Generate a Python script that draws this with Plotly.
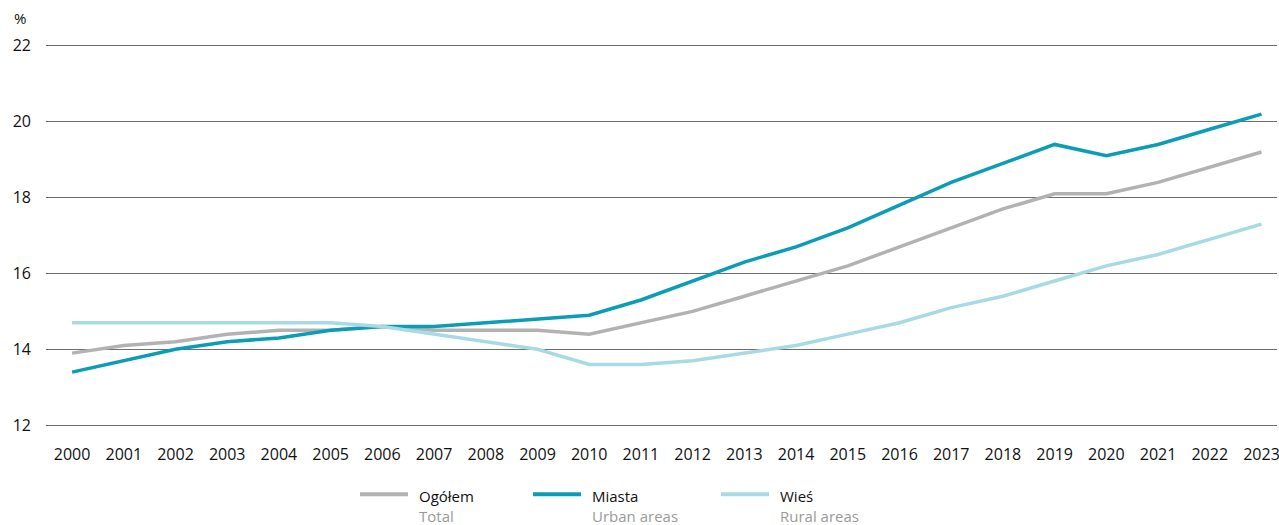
import plotly.graph_objects as go

years = list(range(2000, 2024))

ogolem = [13.9, 14.1, 14.2, 14.4, 14.5, 14.5, 14.6, 14.5, 14.5, 14.5, 14.4, 14.7,
          15.0, 15.4, 15.8, 16.2, 16.7, 17.2, 17.7, 18.1, 18.1, 18.4, 18.8, 19.2]
miasta = [13.4, 13.7, 14.0, 14.2, 14.3, 14.5, 14.6, 14.6, 14.7, 14.8, 14.9, 15.3,
          15.8, 16.3, 16.7, 17.2, 17.8, 18.4, 18.9, 19.4, 19.1, 19.4, 19.8, 20.2]
wies = [14.7, 14.7, 14.7, 14.7, 14.7, 14.7, 14.6, 14.4, 14.2, 14.0, 13.6, 13.6,
        13.7, 13.9, 14.1, 14.4, 14.7, 15.1, 15.4, 15.8, 16.2, 16.5, 16.9, 17.3]

labels_pl = ["Ogółem", "Miasta", "Wieś"]
labels_en = ["Total", "Urban areas", "Rural areas"]
colors = ["#b2b2b2", "#0a9db5", "#a7dae4"]

font = "Open Sans"
W, H = 1279, 525
L, R, T, B = 46, 2, 42.2, 96.2


# pixel -> paper helpers for the hand-made legend
def px_x(p):
    return (p - L) / (W - L - R)


def px_y(p):
    return (H - B - p) / (H - T - B)


fig = go.Figure()
for pl, vals, col in zip(labels_pl, [ogolem, miasta, wies], colors):
    fig.add_trace(go.Scatter(x=years, y=vals, mode="lines", name=pl,
                             line=dict(color=col, width=3.5)))

# legend: line sample + polish label + english label under it
leg_x = [360, 533, 721]
for i in range(3):
    x0 = leg_x[i]
    fig.add_shape(type="line", xref="paper", yref="paper",
                  x0=px_x(x0), x1=px_x(x0 + 48), y0=px_y(494), y1=px_y(494),
                  line=dict(color=colors[i], width=4))
    fig.add_annotation(text=labels_pl[i], xref="paper", yref="paper",
                       x=px_x(x0 + 57), y=px_y(496), xanchor="left", yanchor="middle",
                       showarrow=False, font=dict(size=15, color="#111", family=font))
    fig.add_annotation(text=labels_en[i], xref="paper", yref="paper",
                       x=px_x(x0 + 57), y=px_y(516), xanchor="left", yanchor="middle",
                       showarrow=False, font=dict(size=15, color="#9a9a9a", family=font))

fig.add_annotation(text="%", xref="paper", yref="paper", x=px_x(12), y=px_y(18),
                   xanchor="left", yanchor="middle", showarrow=False,
                   font=dict(size=15, color="#111", family=font))

fig.update_layout(
    width=W, height=H,
    margin=dict(l=L, r=R, t=T, b=B),
    plot_bgcolor="white", paper_bgcolor="white",
    font=dict(family=font, size=16, color="#111"),
    showlegend=False,
)
fig.update_xaxes(range=[1999.496, 2023.3], tickmode="array", tickvals=years,
                 ticktext=[str(y) for y in years], showgrid=False, zeroline=False,
                 showline=False, automargin=False, ticklabelstandoff=14,
                 ticklabeloverflow="allow", tickfont=dict(size=16))
fig.update_yaxes(range=[11.9, 22.1], tickvals=[12, 14, 16, 18, 20, 22], showgrid=True,
                 gridcolor="#6e6e6e", gridwidth=1, zeroline=False, showline=False,
                 automargin=False, ticklabelstandoff=14, tickfont=dict(size=16))

# page body has a default 8px margin; drop it so the figure sits at the corner
fig.write_html("out.html", config={"displayModeBar": False},
               post_script="document.body.style.margin='0';")
